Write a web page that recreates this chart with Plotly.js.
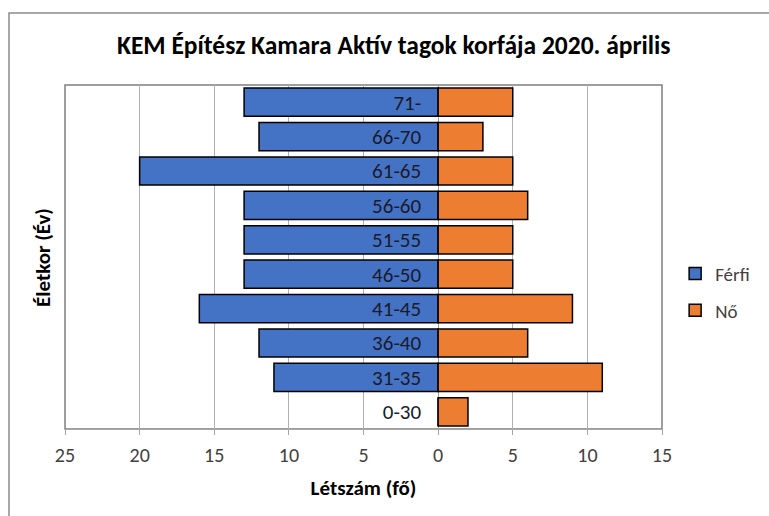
<!DOCTYPE html>
<html><head><meta charset="utf-8">
<script src="https://cdn.plot.ly/plotly-3.0.1.min.js"></script>
<style>html,body{margin:0;padding:0;background:#fff}#chart{width:769px;height:516px}</style>
</head><body><div id="chart"></div>
<script>
const categories = ['0-30','31-35','36-40','41-45','46-50','51-55','56-60','61-65','66-70','71-'];
const ferfi = [0, 11, 12, 16, 13, 13, 13, 20, 12, 13];
const no = [2, 11, 6, 9, 5, 5, 6, 5, 3, 5];
const tickVals = [-25, -20, -15, -10, -5, 0, 5, 10, 15];
const tickText = ['25','20','15','10','5','0','5','10','15'];

const FONT = "Carlito, 'Open Sans', sans-serif";

const traces = [
  {type:'bar', orientation:'h', name:'Férfi', y:categories, x:ferfi.map(v=>-v),
   marker:{color:'#4472C4', line:{color:'#000', width:1.5}}, legendgroup:'a'},
  {type:'bar', orientation:'h', name:'Nő', y:categories, x:no,
   marker:{color:'#ED7D31', line:{color:'#000', width:1.5}}, legendgroup:'b'}
];

const layout = {
  width:769, height:516,
  margin:{l:65, r:107, t:85, b:87},
  paper_bgcolor:'#fff', plot_bgcolor:'#fff',
  font:{family:FONT, color:'#595959'},
  barmode:'overlay', bargap:0.18,
  showlegend:true,
  title:{text:'KEM Építész Kamara Aktív tagok korfája 2020. április', font:{family:FONT, size:25.5, color:'#000', weight:'bold'}, x:0.512, xanchor:'center', xref:'container', y:0.913, yanchor:'middle'},
  xaxis:{range:[-25,15], tickvals:tickVals, ticktext:tickText, tickfont:{size:20, color:'#404040'},
    showgrid:true, gridcolor:'#b0b0b0', gridwidth:1, zeroline:true, zerolinecolor:'#a0a0a0', zerolinewidth:1,
    showline:true, linecolor:'#a6a6a6', linewidth:1, ticks:'outside', ticklen:5, tickcolor:'#a6a6a6',
    ticklabelstandoff:3, fixedrange:true,
    title:{text:'Létszám (fő)', font:{family:FONT, size:21, color:'#000', weight:'bold'}, standoff:14}},
  yaxis:{type:'category', categoryarray:categories, anchor:'free', position:0.625, side:'left',
    showgrid:false, showline:false, ticks:'', ticklabelstandoff:17, automargin:false,
    tickfont:{size:21, color:'#1a1a2a'}, fixedrange:true},
  legend:{x:1.022, xanchor:'left', y:0.398, yanchor:'middle', font:{size:19, color:'#404040'},
    tracegroupgap:9, traceorder:'grouped', itemwidth:30},
  annotations:[
    {text:'Életkor (Év)', xref:'paper', yref:'paper', x:-0.037, y:0.5, textangle:-90, showarrow:false,
     xanchor:'center', yanchor:'middle', font:{family:FONT, size:21, color:'#000', weight:'bold'}}
  ],
  shapes:[
    {type:'rect', xref:'paper', yref:'paper', x0:0, x1:1, y0:0, y1:1, line:{color:'#7f7f7f', width:1.5}, layer:'below'},
    {type:'rect', xref:'paper', yref:'paper', x0:-0.0938, x1:1.2, y0:-0.3, y1:1.209, line:{color:'#8c8c8c', width:1.5}, layer:'below'}
  ]
};

Plotly.newPlot('chart', traces, layout, {displayModeBar:false, staticPlot:true});
</script></body></html>
